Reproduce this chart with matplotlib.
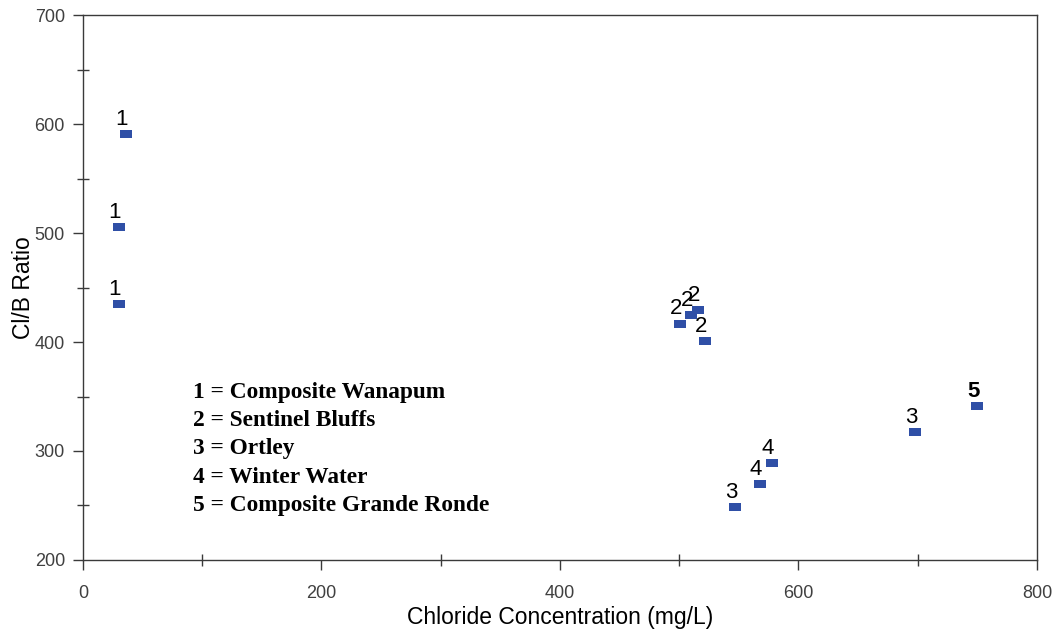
import numpy as np
import matplotlib.pyplot as plt
from matplotlib.ticker import MultipleLocator

# chloride (mg/L), Cl/B ratio and group number for each sample
chloride = [36, 30, 30, 501, 510, 516, 522, 547, 568, 578, 698, 750]
clb_ratio = [591, 506, 435, 417, 425, 429, 401, 249, 270, 289, 317, 341]
group = ["1", "1", "1", "2", "2", "2", "2", "3", "4", "4", "3", "5"]

legend_lines = [
    "1 = Composite Wanapum",
    "2 = Sentinel Bluffs",
    "3 = Ortley",
    "4 = Winter Water",
    "5 = Composite Grande Ronde",
]

fig = plt.figure(figsize=(10.56, 6.32), dpi=100)
ax = fig.add_axes([0.0786, 0.114, 0.9034, 0.862])

# flat rectangular marker
rect = [(-1, -0.62), (1, -0.62), (1, 0.62), (-1, 0.62), (-1, -0.62)]
ax.scatter(chloride, clb_ratio, marker=rect, s=75, color="#2f4fa6",
           linewidths=0, zorder=3)

for x, y, g in zip(chloride, clb_ratio, group):
    ax.annotate(g, (x, y), xytext=(-3, 6.5), textcoords="offset points",
                ha="center", va="baseline", fontsize=16,
                family="Liberation Sans",
                fontweight="bold" if g == "5" else "normal")

for i, line in enumerate(legend_lines):
    ax.text(0.1153, 0.308 - i * 0.052, line, transform=ax.transAxes,
            fontsize=16.8, family="Liberation Serif", fontweight="bold",
            va="center", ha="left")

ax.set_xlim(0, 800)
ax.set_ylim(200, 700)
ax.xaxis.set_major_locator(MultipleLocator(200))
ax.xaxis.set_minor_locator(MultipleLocator(100))
ax.yaxis.set_major_locator(MultipleLocator(100))
ax.yaxis.set_minor_locator(MultipleLocator(50))

for s in ax.spines.values():
    s.set_color("#3a3a3a")
    s.set_linewidth(1.0)

ax.tick_params(which="major", direction="out", length=7, width=1,
               color="#3a3a3a", labelcolor="#404040", labelsize=13)
ax.tick_params(which="minor", direction="inout", length=8, width=1,
               color="#3a3a3a")
ax.tick_params(axis="x", which="major", pad=11)
ax.tick_params(axis="y", which="major", pad=6)
for lab in ax.get_xticklabels() + ax.get_yticklabels():
    lab.set_family("Liberation Sans")

ax.set_xlabel("Chloride Concentration (mg/L)", fontsize=16.5,
              family="Liberation Sans", labelpad=3)
ax.set_ylabel("Cl/B Ratio", fontsize=16.5, family="Liberation Sans",
              labelpad=0)

fig.savefig("out.png", dpi=100)
